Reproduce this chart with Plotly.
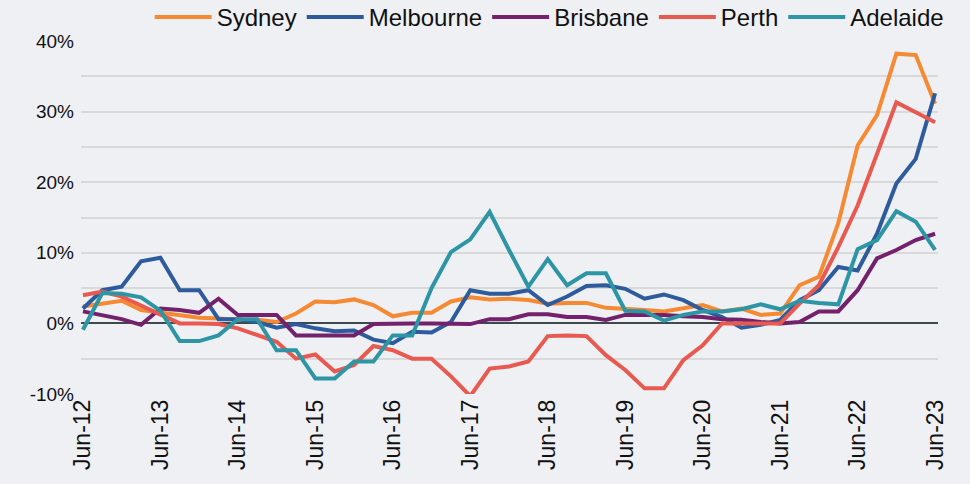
"""Quarterly annual rent growth by capital city."""

import plotly.graph_objects as go

quarters = [
    f"{m}-{y:02d}"
    for y in range(12, 24)
    for m in ("Mar", "Jun", "Sep", "Dec")
][1:-2]

sydney = [2.4, 2.8, 3.2, 1.9, 1.5, 1.2, 0.8, 0.7, 0.5, 0.5, 0.2, 1.4,
          3.1, 3.0, 3.4, 2.6, 1.0, 1.5, 1.5, 3.1, 3.7, 3.4, 3.5, 3.3,
          2.8, 2.9, 2.9, 2.2, 2.1, 1.9, 1.7, 2.1, 2.6, 1.7, 2.1, 1.2,
          1.4, 5.4, 6.6, 14.2, 25.2, 29.5, 38.2, 38.0, 31.1]
melbourne = [2.1, 4.7, 5.2, 8.8, 9.3, 4.7, 4.7, 0.6, 0.6, 0.2, -0.6, -0.1,
             -0.7, -1.1, -1.0, -2.3, -2.8, -1.2, -1.3, 0.2, 4.7, 4.2, 4.2, 4.7,
             2.6, 3.8, 5.3, 5.4, 4.9, 3.5, 4.1, 3.3, 1.9, 0.9, -0.6, -0.2,
             0.5, 3.3, 4.7, 8.0, 7.5, 12.7, 19.8, 23.3, 32.6]
brisbane = [1.7, 1.2, 0.6, -0.2, 2.1, 1.9, 1.5, 3.5, 1.2, 1.2, 1.2, -1.7,
            -1.7, -1.7, -1.7, -0.1, 0.0, 0.0, 0.0, 0.0, -0.1, 0.6, 0.6, 1.3,
            1.3, 0.9, 0.9, 0.5, 1.2, 1.2, 1.2, 1.0, 0.9, 0.6, 0.5, 0.2,
            0.0, 0.2, 1.7, 1.7, 4.7, 9.2, 10.4, 11.8, 12.7]
perth = [4.0, 4.5, 3.8, 2.5, 1.2, 0.0, 0.0, -0.1, -0.7, -1.7, -2.6, -5.0,
         -4.4, -6.8, -5.9, -3.2, -3.8, -5.0, -5.0, -7.5, -10.3, -6.4, -6.1, -5.4,
         -1.8, -1.7, -1.8, -4.5, -6.6, -9.2, -9.2, -5.2, -3.1, 0.0, 0.0, 0.0,
         0.0, 2.8, 5.4, 10.8, 16.7, 24.0, 31.3, 29.9, 28.5]
adelaide = [-0.9, 4.3, 4.2, 3.7, 1.8, -2.5, -2.5, -1.7, 0.6, 0.6, -3.8, -3.8,
            -7.8, -7.8, -5.4, -5.4, -1.7, -1.7, 5.0, 10.1, 11.9, 15.8, 10.4, 5.2,
            9.1, 5.4, 7.1, 7.1, 1.8, 1.7, 0.4, 1.2, 1.7, 1.7, 2.0, 2.7,
            2.0, 3.2, 2.9, 2.7, 10.5, 11.8, 15.9, 14.4, 10.4]

series = {
    "Sydney": (sydney, "#f58a32"),
    "Melbourne": (melbourne, "#2d5b9b"),
    "Brisbane": (brisbane, "#74216b"),
    "Perth": (perth, "#e85a50"),
    "Adelaide": (adelaide, "#2e95a5"),
}

tick_labels = [q for q in quarters if q.startswith("Jun")]
y_ticks = [-10, 0, 10, 20, 30, 40]

fig = go.Figure()
for name, (values, color) in series.items():
    fig.add_trace(
        go.Scatter(
            x=quarters,
            y=values,
            mode="lines",
            name=name,
            line=dict(color=color, width=4),
        )
    )

fig.update_xaxes(
    type="category",
    range=[-0.1, len(quarters) - 0.85],
    tickmode="array",
    tickvals=tick_labels,
    ticktext=tick_labels,
    tickangle=-90,
    showgrid=False,
    showline=False,
    ticks="",
    tickfont=dict(size=23, color="#111"),
)
fig.update_yaxes(
    range=[-10, 40],
    tickmode="array",
    tickvals=y_ticks,
    ticktext=[f"{v}%" for v in y_ticks],
    showgrid=True,
    gridcolor="#d9d9d9",
    gridwidth=2,
    minor=dict(dtick=5, tick0=0, showgrid=True, gridcolor="#d9d9d9", gridwidth=2),
    zeroline=True,
    zerolinecolor="#3d4a4b",
    zerolinewidth=2,
    ticks="",
    ticklabelstandoff=6,
    tickfont=dict(size=19, color="#111"),
)
fig.update_layout(
    width=970,
    height=484,
    paper_bgcolor="#eef0f4",
    plot_bgcolor="#eef0f4",
    font=dict(family="Liberation Sans, Arial, sans-serif", color="#111"),
    margin=dict(l=81, r=32, t=41, b=90, autoexpand=False),
    showlegend=True,
    legend=dict(
        orientation="h",
        xref="container",
        yref="container",
        x=0.978,
        xanchor="right",
        y=0.964,
        yanchor="middle",
        font=dict(size=24, color="#111"),
        bgcolor="rgba(0,0,0,0)",
        itemwidth=57,
        tracegroupgap=0,
    ),
)

fig.write_html(
    "out.html",
    config={"displayModeBar": False},
    post_script="document.body.style.margin='0';",
)
